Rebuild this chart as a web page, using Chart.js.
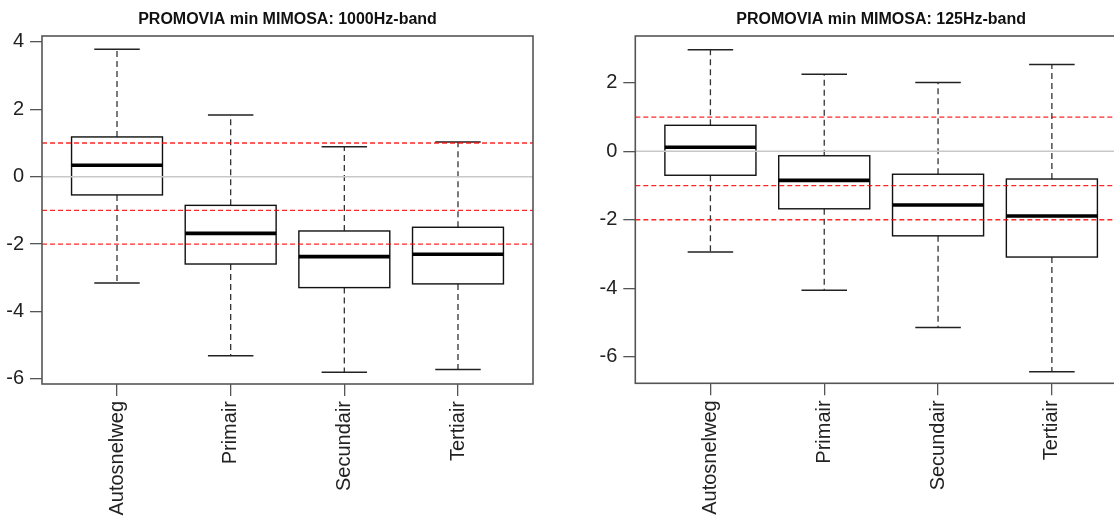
<!DOCTYPE html>
<html>
<head>
<meta charset="utf-8">
<script src="https://cdn.jsdelivr.net/npm/chart.js@4/dist/chart.umd.min.js"></script>
<style>
  html, body { margin: 0; padding: 0; background: #fff; overflow: hidden; width: 1114px; height: 516px; }
  .wrap { position: absolute; top: 0; }
</style>
</head>
<body>
<div class="wrap" style="left:0px;width:560px;height:516px;"><canvas id="c1" width="560" height="516"></canvas></div>
<div class="wrap" style="left:560px;width:600px;height:516px;"><canvas id="c2" width="600" height="516"></canvas></div>
<script>
// ---- data ----
const categories = ['Autosnelweg', 'Primair', 'Secundair', 'Tertiair'];

const title1000 = 'PROMOVIA min MIMOSA: 1000Hz-band';
const lower1000  = [-3.15, -5.31, -5.80, -5.72];
const q1_1000    = [-0.54, -2.59, -3.29, -3.18];
const median1000 = [ 0.34, -1.68, -2.37, -2.30];
const q3_1000    = [ 1.18, -0.85, -1.61, -1.50];
const upper1000  = [ 3.78,  1.83,  0.89,  1.03];
const yTicks1000 = [-6, -4, -2, 0, 2, 4];

const title125 = 'PROMOVIA min MIMOSA: 125Hz-band';
const lower125  = [-2.94, -4.06, -5.15, -6.44];
const q1_125    = [-0.70, -1.68, -2.47, -3.09];
const median125 = [ 0.12, -0.85, -1.57, -1.89];
const q3_125    = [ 0.76, -0.13, -0.67, -0.81];
const upper125  = [ 2.97,  2.25,  2.01,  2.54];
const yTicks125 = [-6, -4, -2, 0, 2];

const redLines = [1, -1, -2];
const zeroLine = 0;

// ---- drawing plugin ----
const boxPlugin = {
  id: 'boxplots',
  afterDatasetsDraw(chart, args, o) {
    const { ctx, chartArea: a } = chart;
    const x = chart.scales.x, y = chart.scales.y;
    ctx.save();
    for (let i = 0; i < categories.length; i++) {
      const cx = x.getPixelForValue(i + 1);
      const hw = x.getPixelForValue(i + 1 + 0.4) - cx;
      const cw = hw / 2;
      const yLo = y.getPixelForValue(o.lower[i]);
      const yQ1 = y.getPixelForValue(o.q1[i]);
      const yMd = y.getPixelForValue(o.median[i]);
      const yQ3 = y.getPixelForValue(o.q3[i]);
      const yUp = y.getPixelForValue(o.upper[i]);
      // whiskers
      ctx.setLineDash([6, 4]);
      ctx.strokeStyle = '#333';
      ctx.lineWidth = 1.3;
      ctx.beginPath();
      ctx.moveTo(cx, yQ3); ctx.lineTo(cx, yUp);
      ctx.moveTo(cx, yQ1); ctx.lineTo(cx, yLo);
      ctx.stroke();
      ctx.setLineDash([]);
      // caps
      ctx.strokeStyle = '#222';
      ctx.lineWidth = 1.5;
      ctx.beginPath();
      ctx.moveTo(cx - cw, yUp); ctx.lineTo(cx + cw, yUp);
      ctx.moveTo(cx - cw, yLo); ctx.lineTo(cx + cw, yLo);
      ctx.stroke();
      // box
      ctx.fillStyle = '#fff';
      ctx.fillRect(cx - hw, yQ3, 2 * hw, yQ1 - yQ3);
      ctx.strokeStyle = '#111';
      ctx.lineWidth = 1.4;
      ctx.strokeRect(cx - hw, yQ3, 2 * hw, yQ1 - yQ3);
      // median
      ctx.strokeStyle = '#000';
      ctx.lineWidth = 3.6;
      ctx.beginPath();
      ctx.moveTo(cx - hw, yMd); ctx.lineTo(cx + hw, yMd);
      ctx.stroke();
    }
    // reference lines
    ctx.save();
    ctx.beginPath();
    ctx.rect(a.left, a.top, a.width, a.height);
    ctx.clip();
    const yz = y.getPixelForValue(zeroLine);
    ctx.strokeStyle = '#c8c8c8';
    ctx.lineWidth = 1.6;
    ctx.beginPath(); ctx.moveTo(a.left, yz); ctx.lineTo(a.right, yz); ctx.stroke();
    ctx.setLineDash([5, 3]);
    ctx.strokeStyle = 'rgba(255,0,0,0.85)';
    ctx.lineWidth = 1.3;
    redLines.forEach(v => {
      const yy = y.getPixelForValue(v);
      ctx.beginPath(); ctx.moveTo(a.left, yy); ctx.lineTo(a.right, yy); ctx.stroke();
    });
    ctx.restore();
    // frame
    ctx.setLineDash([]);
    ctx.strokeStyle = '#555';
    ctx.lineWidth = 1.6;
    ctx.strokeRect(a.left, a.top, a.width, a.height);
    // title
    ctx.fillStyle = '#111';
    ctx.font = 'bold 16px "Liberation Sans", Arial, sans-serif';
    ctx.textAlign = 'center';
    ctx.textBaseline = 'middle';
    ctx.fillText(o.title, (a.left + a.right) / 2, 20);
    ctx.restore();
  }
};

function makeChart(id, stats, yMin, yMax, yTicks, yWidth, padRight, xHeight) {
  const font = { family: '"Liberation Sans", Arial, sans-serif', size: 20 };
  return new Chart(document.getElementById(id), {
    type: 'scatter',
    data: { datasets: [] },
    plugins: [boxPlugin],
    options: {
      responsive: false,
      animation: false,
      devicePixelRatio: 1,
      layout: { padding: { left: 0, top: 36, right: padRight, bottom: 0 } },
      plugins: { legend: { display: false }, tooltip: { enabled: false }, boxplots: stats },
      scales: {
        x: {
          type: 'linear', min: 0.34, max: 4.66,
          afterBuildTicks: s => { s.ticks = categories.map((c, i) => ({ value: i + 1 })); },
          afterFit: s => { s.height = xHeight; },
          ticks: {
            callback: v => categories[Math.round(v) - 1],
            autoSkip: false, minRotation: 90, maxRotation: 90,
            font, color: '#222', padding: 5
          },
          grid: { drawOnChartArea: false, drawTicks: true, tickLength: 12, color: '#555', lineWidth: 1.3 },
          border: { display: false }
        },
        y: {
          type: 'linear', min: yMin, max: yMax,
          afterBuildTicks: s => { s.ticks = yTicks.map(v => ({ value: v })); },
          afterFit: s => { s.width = yWidth; },
          ticks: { font, color: '#222', padding: 6, callback: v => String(v) },
          grid: { drawOnChartArea: false, drawTicks: true, tickLength: 12, color: '#555', lineWidth: 1.3 },
          border: { display: false }
        }
      }
    }
  });
}

makeChart('c1', { title: title1000, lower: lower1000, q1: q1_1000, median: median1000, q3: q3_1000, upper: upper1000 },
  -6.15, 4.175, yTicks1000, 42, 27, 132);
makeChart('c2', { title: title125, lower: lower125, q1: q1_125, median: median125, q3: q3_125, upper: upper125 },
  -6.78, 3.37, yTicks125, 75.3, 33, 132.7);
</script>
</body>
</html>
